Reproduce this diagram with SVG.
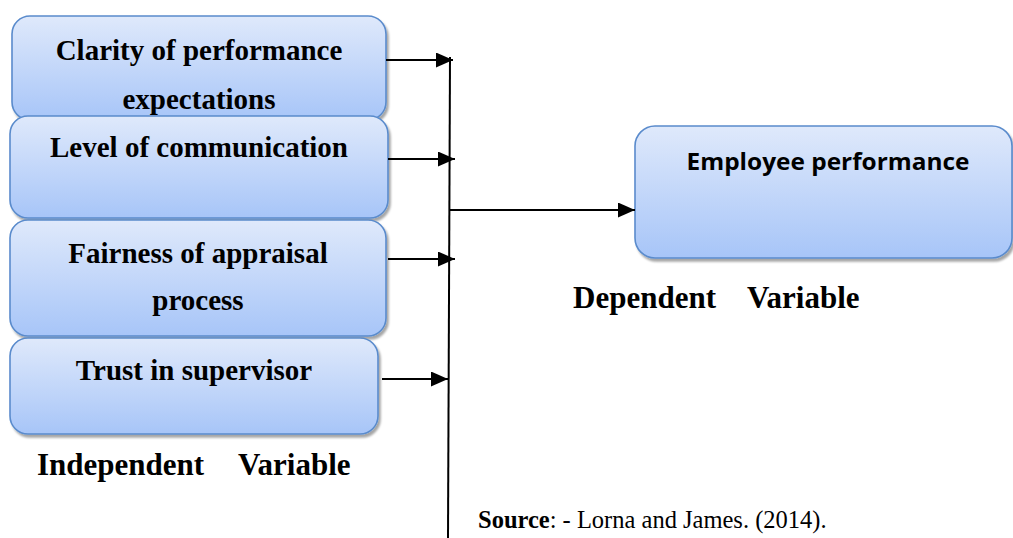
<svg xmlns="http://www.w3.org/2000/svg" width="1013" height="538" viewBox="0 0 1013 538">
<defs>
<linearGradient id="g" x1="0" y1="0" x2="0" y2="1">
<stop offset="0" stop-color="#dfe9fb"/>
<stop offset="1" stop-color="#a7c5f8"/>
</linearGradient>
<marker id="ah" markerWidth="17" markerHeight="15" refX="17" refY="7.5" orient="auto" markerUnits="userSpaceOnUse">
<path d="M0,0 L17,7.5 L0,15 Z" fill="#000"/>
</marker>
<filter id="sh" x="-5%" y="-5%" width="115%" height="120%">
<feDropShadow dx="2" dy="3" stdDeviation="1.2" flood-color="#000" flood-opacity="0.35"/>
</filter>
</defs>
<style>
.box{fill:url(#g);stroke:#5a8bcc;stroke-width:1.6;filter:url(#sh)}
.t{font-family:"Liberation Serif","Times New Roman",serif;font-weight:bold;font-size:29px;fill:#000;text-anchor:middle}
.lab{font-family:"Liberation Serif","Times New Roman",serif;font-weight:bold;font-size:31px;fill:#000}
.c{stroke:#000;stroke-width:2;fill:none}
</style>
<g id="node-clarity">
<rect class="box" x="12" y="16" width="374" height="104" rx="18"/>
<text class="t" x="199" y="60">Clarity of performance</text>
<text class="t" x="199" y="109">expectations</text>
</g>
<g id="node-communication">
<rect class="box" x="10" y="116" width="378" height="102" rx="18"/>
<text class="t" x="199" y="157">Level of communication</text>
</g>
<g id="node-fairness">
<rect class="box" x="10" y="220" width="376" height="116" rx="18"/>
<text class="t" x="198" y="263">Fairness of appraisal</text>
<text class="t" x="198" y="310">process</text>
</g>
<g id="node-trust">
<rect class="box" x="10" y="338" width="368" height="96" rx="18"/>
<text class="t" x="194" y="380">Trust in supervisor</text>
</g>
<g id="node-employee">
<rect class="box" x="635" y="126" width="377" height="132" rx="20"/>
<text x="828" y="170" text-anchor="middle" font-family="'Open Sans','Liberation Sans',sans-serif" font-weight="bold" font-size="23.5" textLength="283" lengthAdjust="spacingAndGlyphs">Employee performance</text>
</g>
<g id="connectors">
<line class="c" x1="450" y1="57" x2="448" y2="538"/>
<line class="c" x1="386" y1="60" x2="453" y2="60" marker-end="url(#ah)"/>
<line class="c" x1="388" y1="159" x2="455" y2="159" marker-end="url(#ah)"/>
<line class="c" x1="388" y1="259" x2="455" y2="259" marker-end="url(#ah)"/>
<line class="c" x1="382" y1="379" x2="448" y2="379" marker-end="url(#ah)"/>
<line class="c" x1="449" y1="210" x2="635" y2="210" marker-end="url(#ah)"/>
</g>
<g id="labels">
<text class="lab" y="475"><tspan x="37">Independent</tspan><tspan x="238">Variable</tspan></text>
<text class="lab" y="308"><tspan x="573">Dependent</tspan><tspan x="747">Variable</tspan></text>
<text x="478" y="528" font-family="'Liberation Serif','Times New Roman',serif" font-size="24.5" fill="#000"><tspan font-weight="bold">Source</tspan>: - Lorna and James. (2014).</text>
</g>
</svg>
